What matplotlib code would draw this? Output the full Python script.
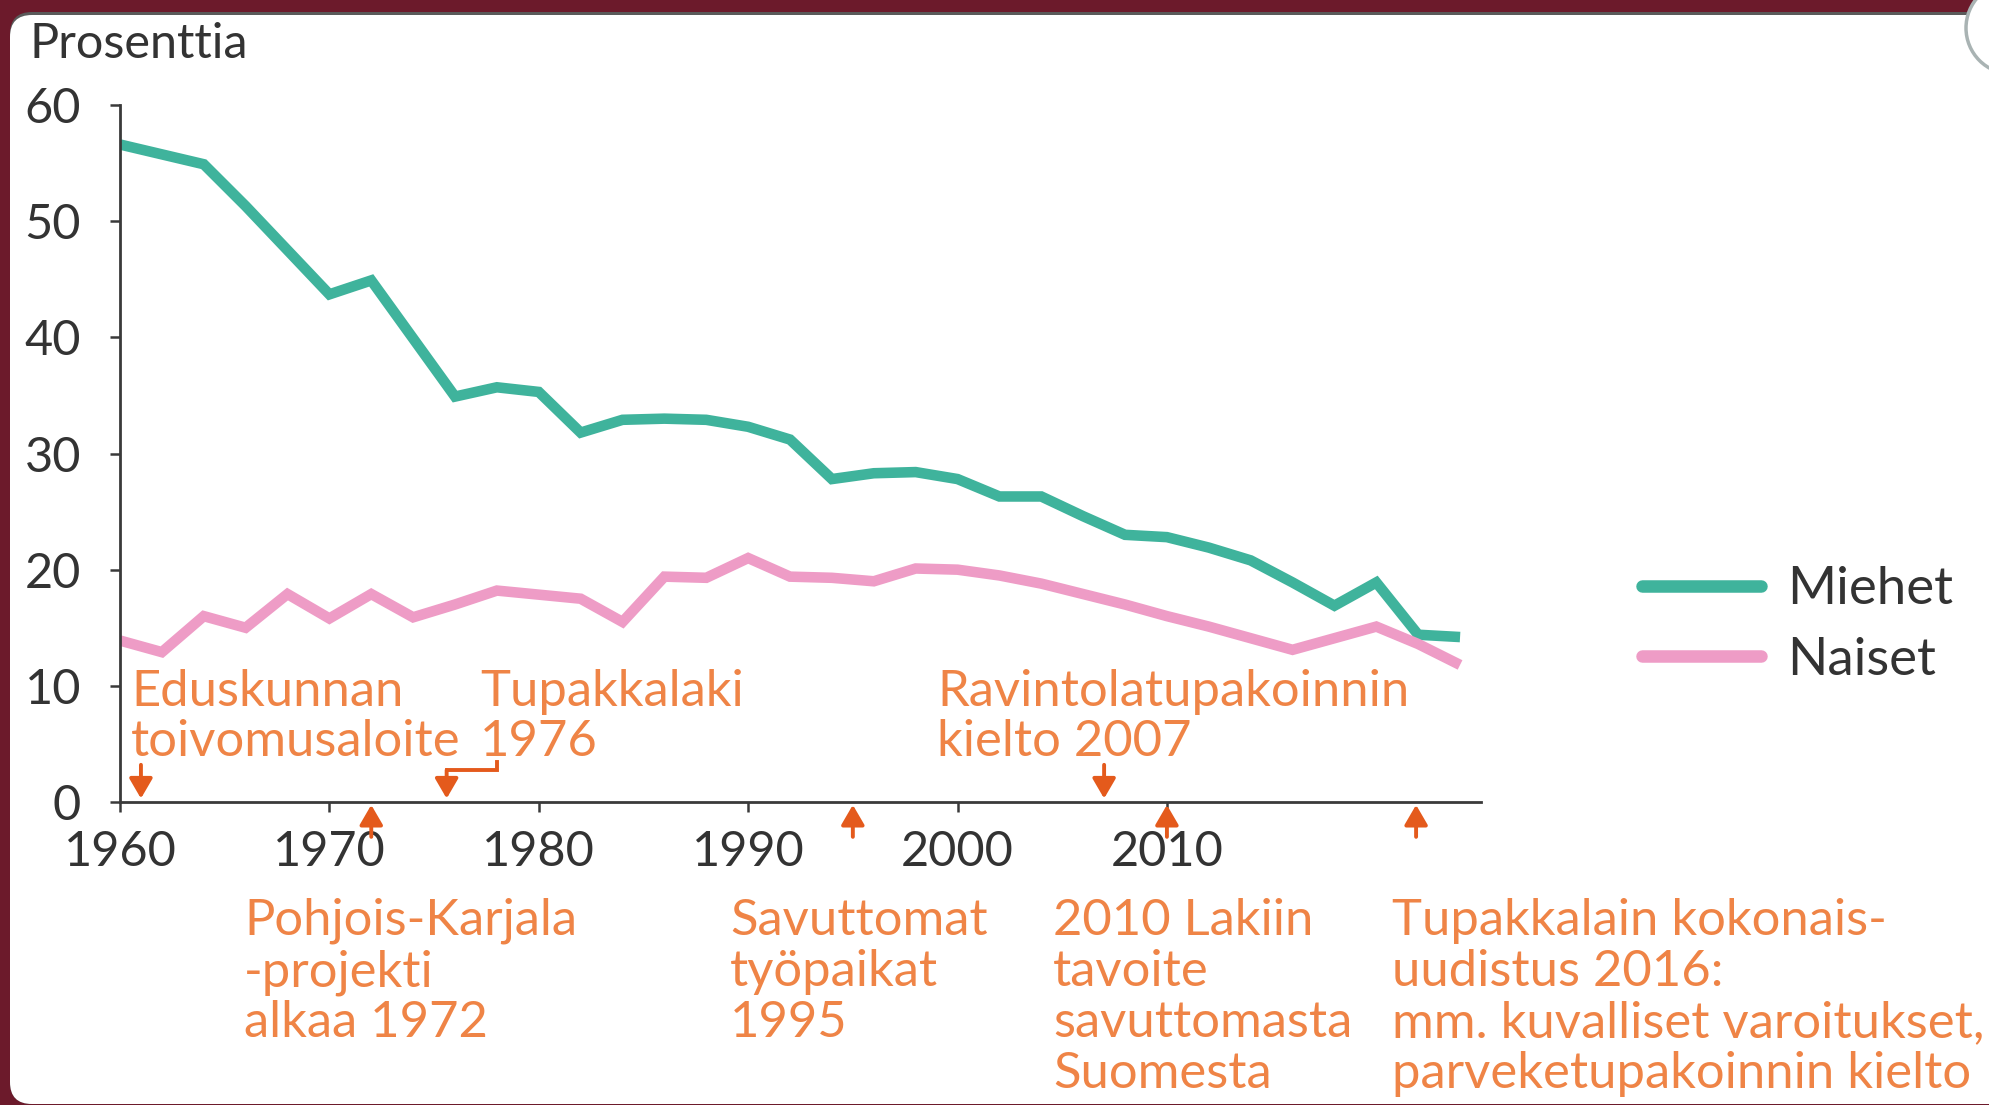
import matplotlib
matplotlib.use("Agg")
import matplotlib.pyplot as plt
from matplotlib.patches import FancyBboxPatch, Circle

# ── data ────────────────────────────────────────────────────
men_years = [1960, 1964, 1966, 1970, 1972, 1976, 1978, 1980, 1982, 1984,
             1986, 1988, 1990, 1992, 1994, 1996, 1998, 2000, 2002, 2004,
             2006, 2008, 2010, 2012, 2014, 2016, 2018, 2020, 2022, 2024]
men_values = [56.6, 54.9, 51.3, 43.7, 44.9, 34.9, 35.7, 35.3, 31.8, 32.9,
              33.0, 32.9, 32.3, 31.2, 27.8, 28.3, 28.4, 27.8, 26.3, 26.3,
              24.6, 23.0, 22.8, 21.9, 20.8, 18.9, 16.9, 18.9, 14.4, 14.2]

women_years = [1960, 1962, 1964, 1966, 1968, 1970, 1972, 1974, 1976, 1978,
               1982, 1984, 1986, 1988, 1990, 1992, 1994, 1996, 1998, 2000,
               2002, 2004, 2006, 2008, 2010, 2012, 2014, 2016, 2018, 2020,
               2022, 2024]
women_values = [13.9, 12.9, 16.0, 15.0, 17.9, 15.8, 17.9, 15.9, 17.0, 18.2,
                17.5, 15.5, 19.4, 19.3, 21.0, 19.4, 19.3, 19.0, 20.1, 20.0,
                19.5, 18.8, 17.9, 17.0, 16.0, 15.1, 14.1, 13.1, 14.1, 15.1,
                13.6, 11.8]

series_names = ["Miehet", "Naiset"]
y_ticks = [0, 10, 20, 30, 40, 50, 60]
x_ticks = [1960, 1970, 1980, 1990, 2000, 2010]

# events: arrow position on the year axis, arrow side, text lines
event_x = [1961, 1972, 1975.6, 1995, 2007, 2010, 2021.9]
event_side = ["above", "below", "above", "below", "above", "below", "below"]
upper_labels = [
    ["Eduskunnan", "toivomusaloite"],
    ["Tupakkalaki", "1976"],
    ["Ravintolatupakoinnin", "kielto 2007"],
]
lower_labels = [
    ["Pohjois-Karjala", "-projekti", "alkaa 1972"],
    ["Savuttomat", "työpaikat", "1995"],
    ["2010 Lakiin", "tavoite", "savuttomasta", "Suomesta"],
    ["Tupakkalain kokonais-", "uudistus 2016:",
     "mm. kuvalliset varoitukset,", "parveketupakoinnin kielto"],
]

# ── style ───────────────────────────────────────────────────
W, H = 1990, 1105
GREEN = "#3fb39c"
PINK = "#ee9cc6"
ORANGE_TXT = "#ef8446"
ORANGE_ARR = "#e45a1c"
INK = "#333333"
FRAME = "#6c1a2b"
FONT = "Lato"
FS_TICK = 35
FS_NOTE = 36.5
FS_LEG = 38

plt.rcParams["font.family"] = [FONT, "DejaVu Sans"]


def fx(px):
    return px / W


def fy(py):
    return 1 - py / H


fig = plt.figure(figsize=(W / 100, H / 100), dpi=100)
fig.patch.set_facecolor(FRAME)

# background panel drawn in pixel units
bg = fig.add_axes([0, 0, 1, 1], zorder=-5)
bg.set_xlim(0, W)
bg.set_ylim(H, 0)
bg.axis("off")
bg.add_patch(FancyBboxPatch((10, 12), W + 40, H - 13,
                            boxstyle="round,pad=0,rounding_size=22",
                            facecolor="#5a5a5a", edgecolor="none"))
bg.add_patch(FancyBboxPatch((10, 15), W + 40, H - 16,
                            boxstyle="round,pad=0,rounding_size=22",
                            facecolor="white", edgecolor="none"))
bg.add_patch(Circle((2012, 28), 46, facecolor="white",
                    edgecolor="#a9b3b3", lw=2.5))

# ── main axes ───────────────────────────────────────────────
ax = fig.add_axes([fx(120), fy(802), fx(1481) - fx(120), fy(105) - fy(802)])
ax.patch.set_alpha(0)
ax.set_xlim(1960, 2025)
ax.set_ylim(0, 60)

lm, = ax.plot(men_years, men_values, color=GREEN, lw=7.6,
              solid_joinstyle="miter", solid_capstyle="butt", label=series_names[0])
lw_, = ax.plot(women_years, women_values, color=PINK, lw=7.6,
               solid_joinstyle="miter", solid_capstyle="butt", label=series_names[1])

for s in ["top", "right"]:
    ax.spines[s].set_visible(False)
for s in ["left", "bottom"]:
    ax.spines[s].set_color("#3a3a3a")
    ax.spines[s].set_linewidth(2.0)

ax.set_xticks(x_ticks)
ax.set_yticks(y_ticks)
ax.tick_params(axis="both", direction="out", length=7, width=1.8,
               color="#3a3a3a", labelsize=FS_TICK, labelcolor=INK)
ax.tick_params(axis="x", pad=13)
ax.tick_params(axis="y", pad=21)
for lab in ax.get_xticklabels() + ax.get_yticklabels():
    lab.set_fontfamily(FONT)

fig.text(fx(30), fy(58), "Prosenttia", fontsize=FS_TICK, color=INK,
         ha="left", va="baseline", family=FONT)

# ── event arrows ────────────────────────────────────────────
arrow_kw = dict(arrowstyle="-|>,head_length=0.55,head_width=0.32",
                color=ORANGE_ARR, lw=2.8, shrinkA=0, shrinkB=0,
                mutation_scale=22)
for x, side in zip(event_x, event_side):
    if side == "above":
        start = 2.75 if x == event_x[2] else 3.2
        ax.annotate("", xy=(x, 0.3), xytext=(x, start),
                    arrowprops=arrow_kw, annotation_clip=False)
    else:
        ax.annotate("", xy=(x, -0.25), xytext=(x, -3.0),
                    arrowprops=arrow_kw, annotation_clip=False)

# bracket of Tupakkalaki 1976 (text ends near 1978)
ax.plot([1978.0, 1978.0, event_x[2]], [3.45, 2.75, 2.75], color=ORANGE_ARR,
        lw=2.8, clip_on=False, solid_joinstyle="miter")

# ── event texts ─────────────────────────────────────────────
upper_left = [131, 480, 937]
upper_base = [706, 756]
lower_left = [244, 730, 1053, 1392]
lower_base = [935, 986, 1037, 1088]


def put_lines(left, bases, lines):
    for base, line in zip(bases, lines):
        fig.text(fx(left), fy(base), line, fontsize=FS_NOTE, color=ORANGE_TXT,
                 ha="left", va="baseline", family=FONT)


for left, lines in zip(upper_left, upper_labels):
    put_lines(left, upper_base, lines)
for left, lines in zip(lower_left, lower_labels):
    put_lines(left, lower_base, lines)

# ── legend ──────────────────────────────────────────────────
leg = fig.legend(handles=[lm, lw_], loc="upper left",
                 bbox_to_anchor=(fx(1642), fy(566)), frameon=False,
                 fontsize=FS_LEG, handlelength=2.25, handletextpad=0.5,
                 labelspacing=0.45, borderaxespad=0, borderpad=0)
for t in leg.get_texts():
    t.set_color(INK)
for h in leg.get_lines():
    h.set_linewidth(9)
    h.set_solid_capstyle("round")

fig.savefig("out.png", dpi=100, facecolor=fig.get_facecolor())
